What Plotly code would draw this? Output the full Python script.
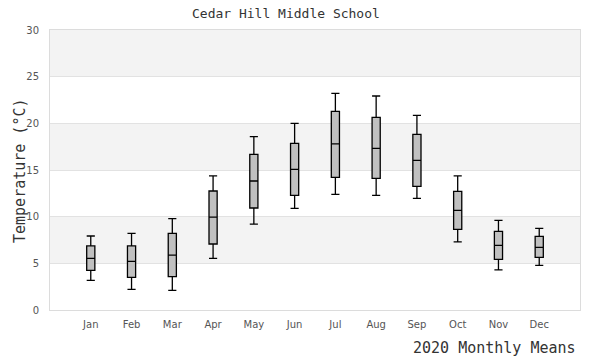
import plotly.graph_objects as go

months = ["Jan", "Feb", "Mar", "Apr", "May", "Jun", "Jul", "Aug", "Sep", "Oct", "Nov", "Dec"]
upper = [7.93, 8.21, 9.8, 14.36, 18.57, 20.0, 23.21, 22.93, 20.86, 14.36, 9.61, 8.75]
q3 = [6.86, 6.86, 8.21, 12.75, 16.68, 17.86, 21.29, 20.64, 18.82, 12.71, 8.43, 7.89]
median = [5.54, 5.21, 5.89, 9.96, 13.82, 15.07, 17.79, 17.32, 16.04, 10.68, 6.93, 6.71]
q1 = [4.25, 3.50, 3.57, 7.07, 10.93, 12.29, 14.21, 14.11, 13.25, 8.64, 5.43, 5.64]
lower = [3.18, 2.21, 2.11, 5.54, 9.21, 10.89, 12.39, 12.29, 11.96, 7.29, 4.29, 4.79]
yticks = [0, 5, 10, 15, 20, 25, 30]

mono = "DejaVu Sans Mono"
sans = "DejaVu Sans"

fig = go.Figure()
fig.add_trace(go.Box(
    x=months, q1=q1, median=median, q3=q3,
    lowerfence=lower, upperfence=upper,
    fillcolor="#c0c0c0",
    line=dict(color="black", width=1.3),
    whiskerwidth=1,
    width=0.2,
    boxpoints=False,
    hoverinfo="skip",
    showlegend=False,
))

# alternating bands
for lo in range(5, 30, 10):
    fig.add_shape(type="rect", xref="paper", yref="y", x0=0, x1=1, y0=lo, y1=lo + 5,
                  fillcolor="#f3f3f3", line_width=0, layer="below")

fig.update_layout(
    width=600, height=360,
    margin=dict(l=50, r=20, t=30, b=50, autoexpand=False),
    paper_bgcolor="white", plot_bgcolor="white",
    xaxis=dict(type="category", range=[-1, 12], showgrid=False, zeroline=False, automargin=False,
               showline=True, mirror=True, linecolor="#dcdcdc", linewidth=1,
               ticks="", ticklabelstandoff=5, tickfont=dict(family=sans, size=10, color="#555")),
    yaxis=dict(range=[0, 30], tickvals=yticks, showgrid=True, gridcolor="#e2e2e2", gridwidth=1,
               zeroline=False, showline=True, mirror=True, linecolor="#dcdcdc", linewidth=1,
               automargin=False, ticks="", ticklabelstandoff=8,
               tickfont=dict(family=sans, size=10, color="#555")),
    annotations=[
        dict(text="Cedar Hill Middle School", xref="paper", yref="paper",
             x=(286 - 50) / 530, y=(310 - 14) / 280, xanchor="center", yanchor="middle",
             showarrow=False, font=dict(family=mono, size=13, color="#333")),
        dict(text="Temperature (°C)", xref="paper", yref="paper", textangle=-90,
             x=(20 - 50) / 530, y=(310 - 171) / 280, xanchor="center", yanchor="middle",
             showarrow=False, font=dict(family=mono, size=15, color="#333")),
        dict(text="2020 Monthly Means", xref="paper", yref="paper",
             x=(578 - 50) / 530, y=(310 - 348) / 280, xanchor="right", yanchor="middle",
             showarrow=False, font=dict(family=mono, size=15, color="#333")),
    ],
)

fig.write_html("out.html", config={"displayModeBar": False},
               post_script="document.body.style.margin='0';")
